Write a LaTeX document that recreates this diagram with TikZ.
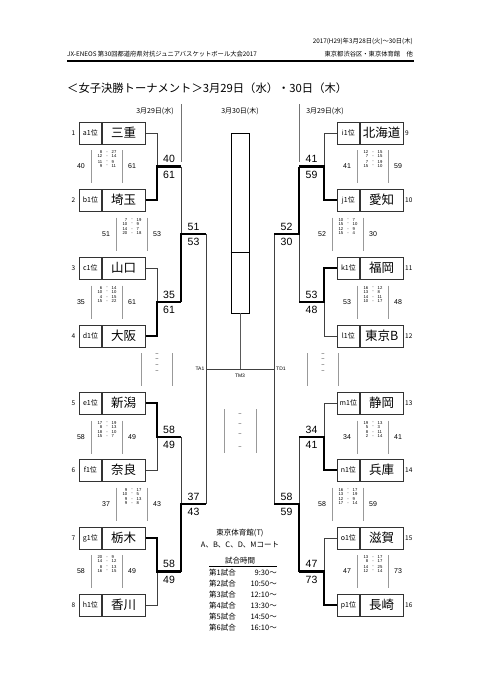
\documentclass[tikz,border=0pt]{standalone}
\usepackage{fontspec}
\setmainfont{Noto Sans CJK JP}
\newfontfamily\libsans{Liberation Sans}
\newcommand\teamL[5]{%
  \node[rankcell] (#1r) at (79,#2) {#3};
  \node[namecell] (#1) at (#1r.east) {#4};
  \node[seed, anchor=east] (#1s) at (75.5,#2) {#5};}
\newcommand\teamR[5]{%
  \node[rankcell] (#1r) at (337,#2) {#3};
  \node[namecell] (#1) at (#1r.east) {#4};
  \node[seed, anchor=west] (#1s) at (405,#2) {#5};}
\newcommand\sblk[6]{%
  \draw[blk] ({#2-15.5},{#3-16.5}) -- ({#2-15.5},{#3+16.5});
  \draw[blk] ({#2+15.5},{#3-16.5}) -- ({#2+15.5},{#3+16.5});
  \node[tot] (#1l) at ({#2-26},#3) {#4};
  \node[tot] (#1r) at ({#2+25},#3) {#5};
  \foreach \a/\b [count=\i] in {#6} {
    \pgfmathsetmacro\off{-18+4*\i+(\i>2)*1.5}
    \node[tiny, anchor=east] (#1a\i) at ({#2-4.5},{#3+\off}) {\a};
    \node[tiny] (#1d\i) at (#2,{#3+\off}) {-};
    \node[tiny, anchor=west] (#1b\i) at ({#2+4.5},{#3+\off}) {\b};
  }}
\newcommand\eblk[6]{%
  \draw[blk] ({#2-#4},{#3-#5}) -- ({#2-#4},{#3+#5});
  \draw[blk] ({#2+#4},{#3-#5}) -- ({#2+#4},{#3+#5});
  \foreach \y [count=\i] in {#6} \node[dsh] (#1d\i) at (#2,\y) {–};}
\newcommand\jlab[5]{%
  \node[bignum, anchor=south] (#1t) at (#2,{#3-3.4}) {#4};
  \node[bignum, anchor=north] (#1b) at (#2,{#3+4.4}) {#5};}
\begin{document}
\begin{tikzpicture}[x=1pt,y=-1pt,
  rankcell/.style={draw=black!80, line width=0.8pt, minimum width=22pt, minimum height=22pt, inner sep=0pt, anchor=west, font=\fontsize{7}{7}\selectfont},
  namecell/.style={draw=black!80, line width=0.8pt, minimum width=43pt, minimum height=22pt, inner sep=0pt, anchor=west, font=\fontsize{12.5}{12.5}\selectfont},
  seed/.style={inner sep=0pt, font=\fontsize{6.5}{6.5}\selectfont},
  lose/.style={draw=black!75, line width=0.9pt},
  win/.style={draw=black, line width=2.4pt, line join=miter},
  blk/.style={draw=black!40, line width=0.7pt},
  bignum/.style={inner sep=0pt, font=\libsans\fontsize{10.5}{10.5}\selectfont},
  tot/.style={inner sep=0pt, font=\libsans\fontsize{7}{7}\selectfont},
  tiny/.style={inner sep=0pt, font=\libsans\fontsize{4.2}{4.2}\selectfont},
  dsh/.style={inner sep=0pt, font=\libsans\fontsize{5}{5}\selectfont},
  txt/.style={inner sep=0pt, font=\fontsize{6.3}{6.3}\selectfont},
  vtxt/.style={inner sep=0pt, font=\fontsize{7.5}{7.5}\selectfont},
  dtxt/.style={inner sep=0pt, font=\fontsize{7}{7}\selectfont},
  lbl/.style={inner sep=0pt, font=\libsans\fontsize{5}{5}\selectfont}]
\useasboundingbox (0,0) rectangle (481,680);
\fill[white] (0,0) rectangle (481,680);

% header
\node[txt, anchor=east] (hdate) at (413,41.5) {2017(H29)年3月28日(火)～30日(木)};
\node[txt, anchor=west] (hname) at (67,54.5) {JX-ENEOS 第30回都道府県対抗ジュニアバスケットボール大会2017};
\node[txt, anchor=east] (hplace) at (413,54.5) {東京都渋谷区・東京体育館　他};
\draw[line width=1.3pt] (67,61) -- (414,61);
\node[inner sep=0pt, anchor=west, font=\fontsize{11.3}{11.3}\selectfont] (title) at (67,88.5) {＜女子決勝トーナメント＞3月29日（水）・30日（木）};

% column headers
\node[dtxt] (dl) at (155,111) {3月29日(水)};
\node[dtxt] (dc) at (240,111) {3月30日(木)};
\node[dtxt] (dr) at (325,111) {3月29日(水)};
\draw[draw=black!55, line width=0.8pt] (181,104) -- (181,162);
\draw[draw=black!55, line width=0.8pt] (299,104) -- (299,162);

% teams left
\teamL{t1}{133}{a1位}{三重}{1}
\teamL{t2}{200}{b1位}{埼玉}{2}
\teamL{t3}{268}{c1位}{山口}{3}
\teamL{t4}{336}{d1位}{大阪}{4}
\teamL{t5}{403}{e1位}{新潟}{5}
\teamL{t6}{470}{f1位}{奈良}{6}
\teamL{t7}{538}{g1位}{栃木}{7}
\teamL{t8}{605}{h1位}{香川}{8}
% teams right
\teamR{t9}{133}{i1位}{北海道}{9}
\teamR{t10}{200}{j1位}{愛知}{10}
\teamR{t11}{268}{k1位}{福岡}{11}
\teamR{t12}{336}{l1位}{東京B}{12}
\teamR{t13}{403}{m1位}{静岡}{13}
\teamR{t14}{470}{n1位}{兵庫}{14}
\teamR{t15}{538}{o1位}{滋賀}{15}
\teamR{t16}{605}{p1位}{長崎}{16}

% left bracket
\coordinate (j1) at (157,166.5); \coordinate (k1) at (181,166.5);
\coordinate (j2) at (157,302);   \coordinate (k2) at (181,302);
\coordinate (j3) at (157,437);   \coordinate (k3) at (181,437);
\coordinate (j4) at (157,571.5); \coordinate (k4) at (181,571.5);
\coordinate (m1) at (181,234);   \coordinate (p1) at (206,234);
\coordinate (m2) at (181,504);   \coordinate (p2) at (206,504);
\coordinate (ta) at (206,369);   \coordinate (td) at (274,369);
\coordinate (tm) at (240,369);
\draw[lose] (t1.east) -| (j1);
\draw[lose] (t3.east) -| (j2);
\draw[lose] (t6.east) -| (j3);
\draw[lose] (t8.east) -| (j4);
\draw[lose] (k1) -- (m1);
\draw[lose] (k3) -- (m2);
\draw[lose] (p1) -- (p2);
\draw[win] (t2.east) -| (j1) -- (k1);
\draw[win] (t4.east) -| (j2) -- (k2);
\draw[win] (t5.east) -| (j3) -- (k3);
\draw[win] (t7.east) -| (j4) -- (k4);
\draw[win] (k2) -- (m1) -- (p1);
\draw[win] (k4) -- (m2) -- (p2);

% right bracket
\coordinate (rj1) at (324,166.5); \coordinate (rk1) at (299,166.5);
\coordinate (rj2) at (324,302);   \coordinate (rk2) at (299,302);
\coordinate (rj3) at (324,437);   \coordinate (rk3) at (299,437);
\coordinate (rj4) at (324,571.5); \coordinate (rk4) at (299,571.5);
\coordinate (rm1) at (299,234);   \coordinate (rp1) at (274,234);
\coordinate (rm2) at (299,504);   \coordinate (rp2) at (274,504);
\draw[lose] (t9r.west) -| (rj1);
\draw[lose] (t12r.west) -| (rj2);
\draw[lose] (t13r.west) -| (rj3);
\draw[lose] (t15r.west) -| (rj4);
\draw[lose] (rk2) -- (rm1);
\draw[lose] (rk3) -- (rm2);
\draw[lose] (rp1) -- (rp2);
\draw[win] (t10r.west) -| (rj1) -- (rk1);
\draw[win] (t11r.west) -| (rj2) -- (rk2);
\draw[win] (t14r.west) -| (rj3) -- (rk3);
\draw[win] (t16r.west) -| (rj4) -- (rk4);
\draw[win] (rk1) -- (rm1) -- (rp1);
\draw[win] (rk4) -- (rm2) -- (rp2);

% centre
\node[draw=black, line width=0.8pt, minimum width=18pt, minimum height=180pt, inner sep=0pt] (final) at (240,223) {};
\draw[line width=0.8pt] (final.west |- 0,252) -- (final.east |- 0,252);
\draw[lose] (ta) -- (td);
\draw[draw=black!65, line width=0.8pt] (final.south) -- (tm);
\node[lbl, anchor=east] (la) at (204.5,369) {TA1};
\node[lbl, anchor=west] (ld) at (276,369) {TD1};
\node[lbl] (lm) at (240,375.5) {TM3};

% junction scores
\jlab{q1}{169}{166.5}{40}{61}
\jlab{q2}{169}{302}{35}{61}
\jlab{q3}{169}{437}{58}{49}
\jlab{q4}{169}{571.5}{58}{49}
\jlab{s1}{193.5}{234}{51}{53}
\jlab{s2}{193.5}{504}{37}{43}
\jlab{q5}{311.5}{166.5}{41}{59}
\jlab{q6}{311.5}{302}{53}{48}
\jlab{q7}{311.5}{437}{34}{41}
\jlab{q8}{311.5}{571.5}{47}{73}
\jlab{s3}{286.5}{234}{52}{30}
\jlab{s4}{286.5}{504}{58}{59}

% score blocks
\sblk{B1}{107}{166.5}{40}{61}{8/27,12/14,11/9,9/11}
\sblk{B2}{132}{234}{51}{53}{7/19,10/9,14/7,20/18}
\sblk{B3}{107}{302}{35}{61}{6/14,10/10,4/15,15/22}
\sblk{B4}{107}{437}{58}{49}{17/19,8/13,18/10,15/7}
\sblk{B5}{132}{504}{37}{43}{9/17,10/5,9/13,9/8}
\sblk{B6}{107}{571.5}{58}{49}{20/9,14/12,8/13,16/15}
\sblk{B7}{373}{166.5}{41}{59}{12/15,7/15,7/19,15/10}
\sblk{B8}{348}{234}{52}{30}{10/7,15/10,12/9,15/4}
\sblk{B9}{373}{302}{53}{48}{16/12,13/8,14/11,10/17}
\sblk{B10}{373}{437}{34}{41}{19/13,5/3,8/11,2/14}
\sblk{B11}{348}{504}{58}{59}{16/17,13/19,12/9,17/14}
\sblk{B12}{373}{571.5}{47}{73}{13/17,8/17,14/25,12/14}
\eblk{E1}{157}{369.5}{15.5}{16.5}{355,360,366,372}
\eblk{E2}{323}{369.5}{15.5}{16.5}{355,360,366,372}
\eblk{E3}{240}{431}{16}{22}{415,425,434.5,448}

% venue and times
\node[vtxt] (venue) at (240,533) {東京体育館(T)};
\node[vtxt] (courts) at (240,545) {A、B、C、D、Mコート};
\node[vtxt] (ttl) at (240,560.5) {試合時間};
\draw[line width=0.7pt] (209,566) -- (277,566);
\foreach \g/\t [count=\i] in {1/9:30～,2/10:50～,3/12:10～,4/13:30～,5/14:50～,6/16:10～} {
  \node[vtxt, anchor=west] (g\i) at (209,{573+11*(\i-1)}) {第\g 試合};
  \node[vtxt, anchor=east] (h\i) at (277,{573+11*(\i-1)}) {\t};
}
\end{tikzpicture}
\end{document}
